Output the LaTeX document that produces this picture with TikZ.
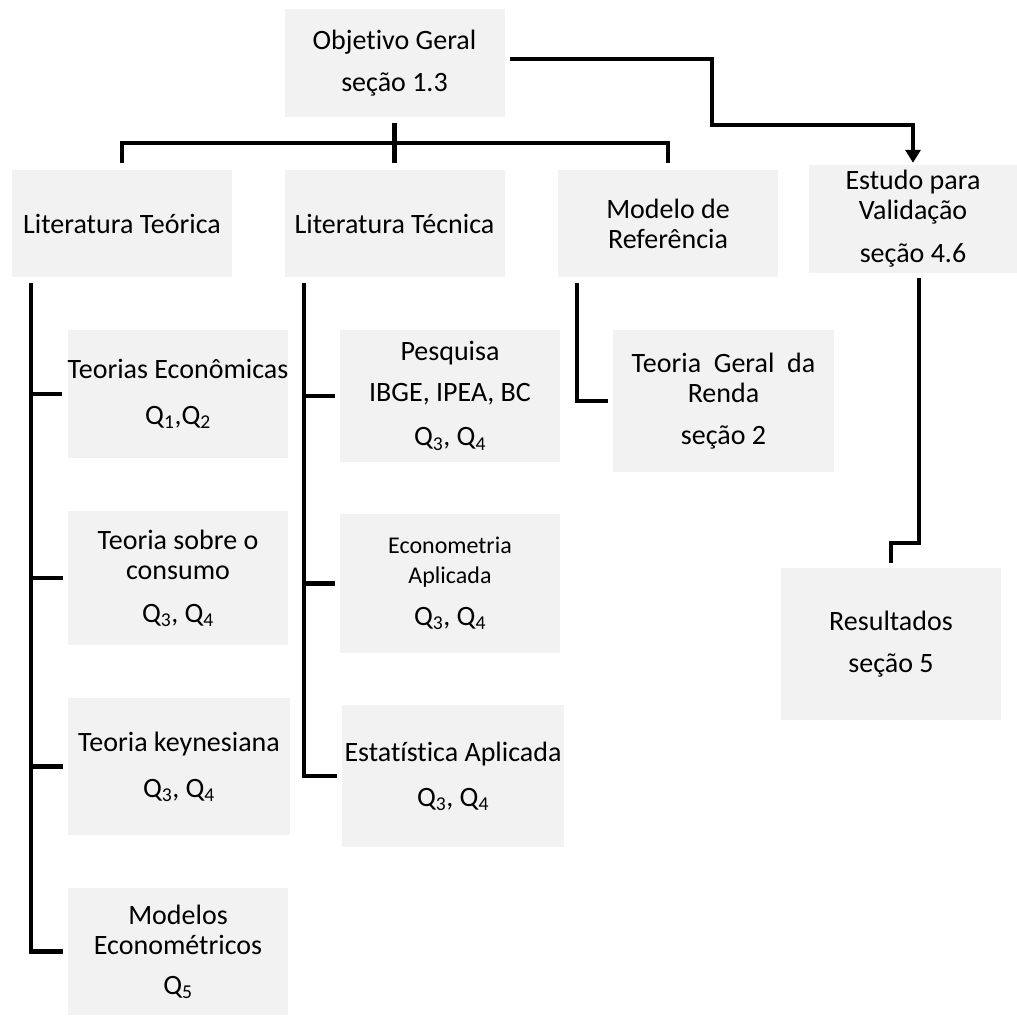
\documentclass[tikz,border=0pt]{standalone}
\usepackage{fontspec}
\setmainfont[Ligatures=NoCommon]{Carlito}
\usepackage{tikz}
\usetikzlibrary{arrows.meta}

\definecolor{boxgray}{HTML}{F2F2F2}

\begin{document}
\begin{tikzpicture}[x=1pt, y=-1pt,
    box/.style={fill=boxgray, align=center, inner sep=0pt,
      font=\fontsize{28}{30}\selectfont, minimum width=220pt},
    link/.style={line width=4.5pt, black}]
    \useasboundingbox (0,0) rectangle (1017,1015);
    % ---- Top ----
    \node[box, minimum height=108pt] (obj) at (394.5,63) {Objetivo Geral\\[12pt]seção 1.3};
    % ---- Level 2 ----
    \node[box, minimum height=107pt] (litteo) at (122,223.5) {Literatura Teórica};
    \node[box, minimum height=107pt] (littec) at (394.5,223.5) {Literatura Técnica};
    \node[box, minimum height=107pt] (modref) at (668,223.5) {Modelo de\\Referência};
    \node[box, minimum height=108pt, minimum width=208pt] (estudo) at (913,219)
      {Estudo para\\Validação\\[13pt]seção 4.6};
    % ---- Teoria ----
    \node[box, minimum height=128pt] (teoeco) at (178,394)
      {Teorias Econômicas\\[16pt]Q\textsubscript{1},Q\textsubscript{2}};
    \node[box, minimum height=134pt] (teocons) at (178,578)
      {Teoria sobre o\\consumo\\[13pt]Q\textsubscript{3}, Q\textsubscript{4}};
    \node[box, minimum height=137pt, minimum width=222pt] (teokey) at (179,766.5)
      {Teoria keynesiana\\[16pt]Q\textsubscript{3}, Q\textsubscript{4}};
    \node[box, minimum height=127pt] (modeco) at (178,951.5)
      {Modelos\\Econométricos\\[10pt]Q\textsubscript{5}};
    % ---- Tecnica ----
    \node[box, minimum height=132pt] (pesq) at (450,396)
      {Pesquisa\\[11pt]IBGE, IPEA, BC\\[14pt]Q\textsubscript{3}, Q\textsubscript{4}};
    \node[box, minimum height=139pt] (econ) at (450,583.5)
      {\fontsize{24}{29}\selectfont Econometria\\\fontsize{24}{29}\selectfont Aplicada\\[12pt]Q\textsubscript{3}, Q\textsubscript{4}};
    \node[box, minimum height=142pt, minimum width=222pt] (estat) at (453,776)
      {Estatística Aplicada\\[15pt]Q\textsubscript{3}, Q\textsubscript{4}};
    % ---- Referencia / validacao ----
    \node[box, minimum height=142pt, minimum width=221pt] (tgr) at (723.5,401)
      {Teoria\ \ Geral\ \ da\\Renda\\[12pt]seção 2};
    \node[box, minimum height=152pt] (result) at (891,644)
      {Resultados\\[12pt]seção 5};
    % ---- Connectors ----
    \coordinate (bar) at (394.5,143);
    \coordinate (elbow) at (712,125);
    \coordinate (teotop) at (31,283);
    \coordinate (tectop) at (304,283);
    \coordinate (reftop) at (577,283);
    \coordinate (valtop) at (919,278);
    \coordinate (valstep) at (919,543);
    \draw[link] ([yshift=-6pt]obj.south) -- (bar);
    \draw[link] ([yshift=7pt]litteo.north) |- (bar) -| ([yshift=7pt]modref.north);
    \draw[link] (bar) -- ([yshift=7pt]littec.north);
    \draw[link, line width=3.5pt, -{Triangle[width=15pt,length=13pt]}]
      ([xshift=5pt,yshift=4pt]obj.east) -| (elbow) -| ([yshift=2pt]estudo.north);
    % ---- Branches ----
    \draw[link] (teotop) |- ([xshift=-5pt]modeco.west);
    \foreach \n in {teoeco,teocons,teokey}
      \draw[link] (teotop |- \n.west) -- ([xshift=-5pt]\n.west);
    \draw[link] (tectop) |- ([xshift=-5pt]estat.west);
    \foreach \n in {pesq,econ}
      \draw[link] (tectop |- \n.west) -- ([xshift=-5pt]\n.west);
    \draw[link] (reftop) |- ([xshift=-5pt]tgr.west);
    \draw[link] (valtop) -- (valstep) -| ([yshift=5pt]result.north);
\end{tikzpicture}
\end{document}
